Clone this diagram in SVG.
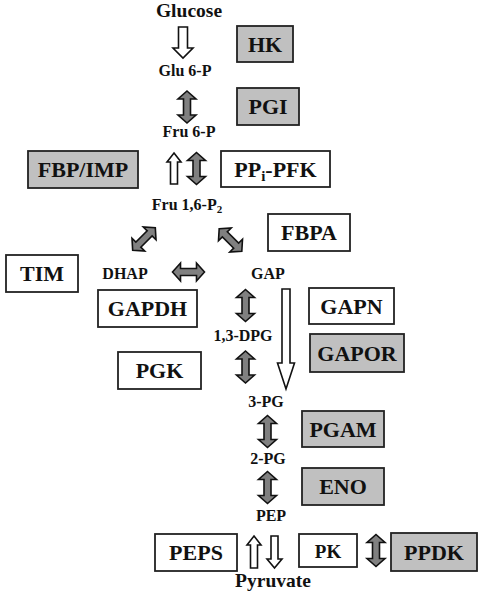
<svg xmlns="http://www.w3.org/2000/svg" xmlns:xlink="http://www.w3.org/1999/xlink" width="484" height="605" viewBox="0 0 484 605">
<style>
text{font-weight:bold;fill:#111;text-anchor:middle}
.box{stroke:#222;stroke-width:1.8}
.g{fill:#c0c0c0}
.w{fill:#fff}
.bl{font-size:22px}
.met{font-size:16px}
.big{font-size:19.5px}
.da{fill:#808080;stroke:#111;stroke-width:1.6;stroke-linejoin:miter}
.ha{fill:#fff;stroke:#111;stroke-width:1.6}
</style>
<defs>
<path id="dbl" d="M0,-16 L9,-8 L3.5,-8 L3.5,8 L9,8 L0,16 L-9,8 L-3.5,8 L-3.5,-8 L-9,-8 Z"/>
</defs>
<rect width="484" height="605" fill="#fff"/>
<g id="connectors">
<path class="ha" d="M178.5,27 L187.5,27 L187.5,48 L193,48 L183,58 L173,48 L178.5,48 Z"/>
<use xlink:href="#dbl" class="da" transform="translate(187,107)"/>
<path class="ha" d="M174,153 L181,162 L177.5,162 L177.5,184 L170.5,184 L170.5,162 L167,162 Z"/>
<use xlink:href="#dbl" class="da" transform="translate(196.5,168.5)"/>
<use xlink:href="#dbl" class="da" transform="translate(144,239) rotate(45)"/>
<use xlink:href="#dbl" class="da" transform="translate(230.5,240) rotate(-45)"/>
<use xlink:href="#dbl" class="da" transform="translate(188.5,272) rotate(90)"/>
<use xlink:href="#dbl" class="da" transform="translate(245.5,305.5)"/>
<use xlink:href="#dbl" class="da" transform="translate(245.5,367)"/>
<path class="ha" d="M282,289 L290,289 L290,363 L294.5,363 L286,389 L277.5,363 L282,363 Z"/>
<use xlink:href="#dbl" class="da" transform="translate(267.5,431.5)"/>
<use xlink:href="#dbl" class="da" transform="translate(267.5,487.5)"/>
<path class="ha" d="M254,536 L261,545 L257.5,545 L257.5,568 L250.5,568 L250.5,545 L247,545 Z"/>
<path class="ha" d="M271,536 L278,536 L278,559 L282,559 L274.5,568 L267,559 L271,559 Z"/>
<use xlink:href="#dbl" class="da" transform="translate(376,550.5)"/>
</g>
<g font-family="'Liberation Serif', 'DejaVu Serif', serif">
<g id="metabolites">
<text class="big" x="189" y="17">Glucose</text>
<text class="met" x="185" y="76">Glu 6-P</text>
<text class="met" x="189" y="137">Fru 6-P</text>
<text class="met" x="187" y="210">Fru 1,6-P<tspan font-size="11" dy="3">2</tspan></text>
<text class="met" x="125" y="279">DHAP</text>
<text class="met" x="268" y="279">GAP</text>
<text class="met" x="243" y="341">1,3-DPG</text>
<text class="met" x="266" y="407">3-PG</text>
<text class="met" x="268" y="464">2-PG</text>
<text class="met" x="271" y="521">PEP</text>
<text class="big" x="273" y="587">Pyruvate</text>
</g>
<g id="HK"><rect class="box g" x="237" y="26" width="56" height="36"/><text class="bl" x="265" y="51.5">HK</text></g>
<g id="PGI"><rect class="box g" x="237" y="88" width="62" height="37"/><text class="bl" x="268" y="114">PGI</text></g>
<g id="FBP-IMP"><rect class="box g" x="28" y="151" width="110" height="37"/><text class="bl" x="83" y="177">FBP/IMP</text></g>
<g id="PPi-PFK"><rect class="box w" x="221" y="151" width="109" height="36"/><text class="bl" x="275.5" y="176.5">PP<tspan font-size="15" dy="4">i</tspan><tspan dy="-4">-PFK</tspan></text></g>
<g id="FBPA"><rect class="box w" x="268" y="214" width="82" height="37"/><text class="bl" x="309" y="240">FBPA</text></g>
<g id="TIM"><rect class="box w" x="6" y="255" width="72" height="37"/><text class="bl" x="42" y="281">TIM</text></g>
<g id="GAPDH"><rect class="box w" x="98" y="290" width="99" height="37"/><text class="bl" x="147.5" y="316">GAPDH</text></g>
<g id="GAPN"><rect class="box w" x="309" y="288" width="85" height="36"/><text class="bl" x="351.5" y="313.5">GAPN</text></g>
<g id="GAPOR"><rect class="box g" x="310" y="334" width="94" height="38"/><text class="bl" x="357" y="360.5">GAPOR</text></g>
<g id="PGK"><rect class="box w" x="118" y="352" width="83" height="37"/><text class="bl" x="159.5" y="378">PGK</text></g>
<g id="PGAM"><rect class="box g" x="302" y="411" width="82" height="36"/><text class="bl" x="343" y="436.5">PGAM</text></g>
<g id="ENO"><rect class="box g" x="302" y="468" width="82" height="37"/><text class="bl" x="343" y="494">ENO</text></g>
<g id="PEPS"><rect class="box w" x="155" y="534" width="82" height="37"/><text class="bl" x="196" y="560">PEPS</text></g>
<g id="PK"><rect class="box w" x="299" y="534" width="58" height="33"/><text x="328" y="557.5" font-size="19">PK</text></g>
<g id="PPDK"><rect class="box g" x="391" y="533" width="86" height="38"/><text class="bl" x="434" y="559.5">PPDK</text></g>
</g>
</svg>
